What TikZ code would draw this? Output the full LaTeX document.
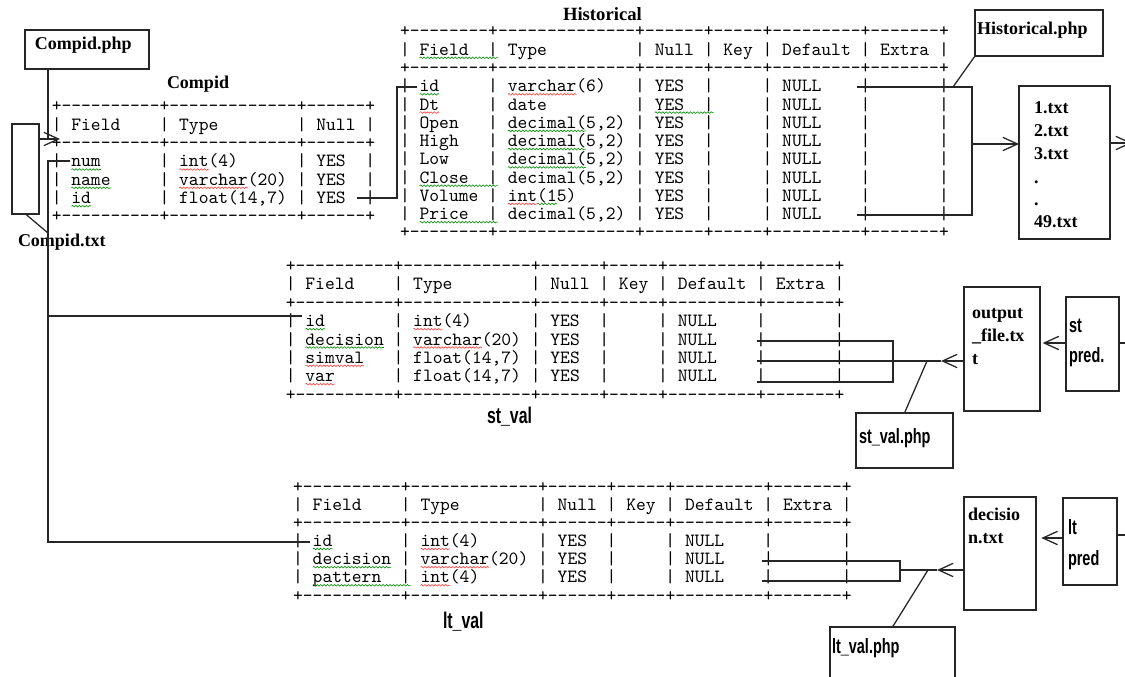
\documentclass[tikz,border=0pt]{standalone}
\usepackage{fontspec}
\setmainfont{Liberation Serif}
\newfontfamily\monof{lmmono10-regular}[Extension=.otf, Ligatures=TeXOff]
\newfontfamily\condf{Liberation Sans}[FakeStretch=0.7]
\usetikzlibrary{arrows.meta,decorations.pathmorphing,fit}

% one fixed-width cell of a MySQL-style text table, followed by its bar
\newcommand\tcell[2]{\makebox[#1\fontcharwd\font`0][l]{~#2}|}
% border line: +----+------+ with the given column widths
\newcommand\bdr[1]{+\foreach\n in {#1}{\foreach\k in {1,...,\n}{-}+}}
\newcommand\rowC[3]{|\tcell{10}{#1}\tcell{13}{#2}\tcell{6}{#3}}
\newcommand\rowH[6]{|\tcell{8}{#1}\tcell{14}{#2}\tcell{6}{#3}\tcell{5}{#4}\tcell{9}{#5}\tcell{7}{#6}}
\newcommand\rowV[6]{|\tcell{10}{#1}\tcell{13}{#2}\tcell{6}{#3}\tcell{5}{#4}\tcell{9}{#5}\tcell{7}{#6}}
\newcommand\trow[4]{\node[trow] (#1) at (#2,#3) {#4};}
% wavy underline from column #4 to column #5 of a table starting at x=#2
\newcommand\squig[5]{\draw[#1] ({#2+9.8*#4},#3) -- ({#2+9.8*#5},#3);}
% plain rectangle spanning two corners
\newcommand\pbox[5]{\coordinate (#1-a) at (#2,#3); \coordinate (#1-b) at (#4,#5); \node[pbx, fit=(#1-a)(#1-b)] (#1) {};}

\tikzset{
  ln/.style={draw=black!85, line width=0.95pt},
  pbx/.style={draw=black!85, line width=0.95pt, inner sep=0pt, outer sep=0pt},
  arr/.style={ln, -{Straight Barb[length=11pt,width=10pt]}},
  trow/.style={anchor=base west, inner sep=0pt, outer sep=0pt, font=\monof\fontsize{14}{16}\selectfont},
  lbl/.style={anchor=base west, inner sep=0pt, outer sep=0pt, font=\bfseries\fontsize{13.5}{16}\selectfont},
  cnd/.style={anchor=base west, inner sep=0pt, outer sep=0pt, font=\condf\bfseries\fontsize{15.5}{18}\selectfont},
  wv/.style={line width=0.45pt, decorate, decoration={snake, amplitude=0.6pt, segment length=2.6pt}},
  wr/.style={wv, draw=red!75},
  wg/.style={wv, draw=green!55!black},
}

\begin{document}
\begin{tikzpicture}[x=0.75pt,y=-0.75pt]
\fill[white] (0,0) rectangle (1125,677);
\useasboundingbox (0,0) rectangle (1125,677);

% ---------- Compid table ----------
\node[lbl] (clab) at (167,88.3) {Compid};
\trow{c0}{51.8}{112}{\bdr{10,13,6}}
\trow{c1}{51.8}{130.3}{\rowC{Field}{Type}{Null}}
\trow{c2}{51.8}{148.7}{\bdr{10,13,6}}
\trow{c3}{51.8}{167}{\rowC{num}{int(4)}{YES}}
\trow{c4}{51.8}{185.3}{\rowC{name}{varchar(20)}{YES}}
\trow{c5}{51.8}{203.7}{\rowC{id}{float(14,7)}{YES}}
\trow{c6}{51.8}{222}{\bdr{10,13,6}}
\squig{wg}{51.8}{169.5}{2}{5}
\squig{wr}{51.8}{169.5}{13}{16}
\squig{wg}{51.8}{187.8}{2}{6}
\squig{wr}{51.8}{187.8}{13}{20}
\squig{wg}{51.8}{206.2}{2}{4}

% ---------- Historical table ----------
\node[lbl, font=\bfseries\fontsize{14}{16}\selectfont] (hlab) at (563,20.5) {Historical};
\trow{h0}{400}{37}{\bdr{8,14,6,5,9,7}}
\trow{h1}{400}{55.3}{\rowH{Field}{Type}{Null}{Key}{Default}{Extra}}
\trow{h2}{400}{73.5}{\bdr{8,14,6,5,9,7}}
\trow{h3}{400}{91.8}{\rowH{id}{varchar(6)}{YES}{}{NULL}{}}
\trow{h4}{400}{110.1}{\rowH{Dt}{date}{YES}{}{NULL}{}}
\trow{h5}{400}{128.4}{\rowH{Open}{decimal(5,2)}{YES}{}{NULL}{}}
\trow{h6}{400}{146.6}{\rowH{High}{decimal(5,2)}{YES}{}{NULL}{}}
\trow{h7}{400}{164.9}{\rowH{Low}{decimal(5,2)}{YES}{}{NULL}{}}
\trow{h8}{400}{183.2}{\rowH{Close}{decimal(5,2)}{YES}{}{NULL}{}}
\trow{h9}{400}{201.4}{\rowH{Volume}{int(15)}{YES}{}{NULL}{}}
\trow{h10}{400}{219.7}{\rowH{Price}{decimal(5,2)}{YES}{}{NULL}{}}
\trow{h11}{400}{238}{\bdr{8,14,6,5,9,7}}
\squig{wg}{400}{57.8}{2}{10}
\squig{wg}{400}{94.3}{2}{4}
\squig{wr}{400}{94.3}{11}{18}
\squig{wr}{400}{112.6}{2}{4}
\squig{wg}{400}{112.6}{26}{32}
\squig{wg}{400}{130.9}{11}{19}
\squig{wg}{400}{149.1}{11}{19}
\squig{wg}{400}{167.4}{11}{19}
\squig{wg}{400}{185.7}{2}{10}
\squig{wr}{400}{203.9}{11}{14}
\squig{wg}{400}{203.9}{14}{16}
\squig{wg}{400}{222.2}{2}{10}

% ---------- st_val table ----------
\trow{s0}{285.8}{271.7}{\bdr{10,13,6,5,9,7}}
\trow{s1}{285.8}{290}{\rowV{Field}{Type}{Null}{Key}{Default}{Extra}}
\trow{s2}{285.8}{308.3}{\bdr{10,13,6,5,9,7}}
\trow{s3}{285.8}{326.7}{\rowV{id}{int(4)}{YES}{}{NULL}{}}
\trow{s4}{285.8}{345}{\rowV{decision}{varchar(20)}{YES}{}{NULL}{}}
\trow{s5}{285.8}{363.3}{\rowV{simval}{float(14,7)}{YES}{}{NULL}{}}
\trow{s6}{285.8}{381.7}{\rowV{var}{float(14,7)}{YES}{}{NULL}{}}
\trow{s7}{285.8}{400}{\bdr{10,13,6,5,9,7}}
\node[cnd, font=\condf\bfseries\fontsize{17}{18}\selectfont] (slab) at (487,423) {st\_val};
\squig{wg}{285.8}{329.2}{2}{4}
\squig{wr}{285.8}{329.2}{13}{16}
\squig{wg}{285.8}{347.5}{2}{10}
\squig{wr}{285.8}{347.5}{13}{20}
\squig{wr}{285.8}{365.8}{2}{8}
\squig{wr}{285.8}{384.2}{2}{5}

% ---------- lt_val table ----------
\trow{l0}{293.1}{492}{\bdr{10,13,6,5,9,7}}
\trow{l1}{293.1}{510.2}{\rowV{Field}{Type}{Null}{Key}{Default}{Extra}}
\trow{l2}{293.1}{528.3}{\bdr{10,13,6,5,9,7}}
\trow{l3}{293.1}{546.5}{\rowV{id}{int(4)}{YES}{}{NULL}{}}
\trow{l4}{293.1}{564.7}{\rowV{decision}{varchar(20)}{YES}{}{NULL}{}}
\trow{l5}{293.1}{582.8}{\rowV{pattern}{int(4)}{YES}{}{NULL}{}}
\trow{l6}{293.1}{601}{\bdr{10,13,6,5,9,7}}
\node[cnd, font=\condf\bfseries\fontsize{17}{18}\selectfont] (llab) at (443,628) {lt\_val};
\squig{wg}{293.1}{549}{2}{4}
\squig{wr}{293.1}{549}{13}{16}
\squig{wg}{293.1}{567.2}{2}{10}
\squig{wr}{293.1}{567.2}{13}{20}
\squig{wg}{293.1}{585.3}{2}{12}
\squig{wr}{293.1}{585.3}{13}{16}

% ---------- boxes ----------
\pbox{cphp}{25}{30}{149}{69}
\node[lbl] (cphp-t) at (35,50) {Compid.php};
\pbox{ctxt}{12}{124}{39}{214}
\node[lbl] (ctxt-t) at (18,247) {Compid.txt};
\pbox{hphp}{975}{10}{1103}{56}
\node[lbl] (hphp-t) at (977,35) {Historical.php};
\pbox{files}{1019}{86}{1110}{239}
\foreach \t/\yb [count=\i] in {1.txt/114, 2.txt/137, 3.txt/160, ./184, ./206, 49.txt/228}
  \node[lbl] (files-\i) at (1034,\yb) {\t};
\pbox{outf}{964}{287}{1040}{411}
\node[lbl] (outf-1) at (972,319) {output};
\node[lbl] (outf-2) at (972,342) {\_file.tx};
\node[lbl] (outf-3) at (972,365) {t};
\pbox{spred}{1066}{297}{1119}{391}
\node[cnd] (spred-1) at (1069,333) {st};
\node[cnd] (spred-2) at (1069,363) {pred.};
\pbox{svphp}{856}{413}{953}{468}
\node[cnd] (svphp-t) at (859,443) {st\_val.php};
\pbox{dect}{964}{497}{1036}{610}
\node[lbl] (dect-1) at (968,520) {decisio};
\node[lbl] (dect-2) at (968,543) {n.txt};
\pbox{lpred}{1063}{498}{1117}{585}
\node[cnd] (lpred-1) at (1068,534) {lt};
\node[cnd] (lpred-2) at (1068,565) {pred};
\pbox{lvphp}{830}{627}{955}{690}
\node[cnd] (lvphp-t) at (832,653) {lt\_val.php};

% ---------- connectors ----------
% Compid.php and Compid.txt feed the Compid table
\coordinate (jA) at (48,139);
\coordinate (tipA) at (60,139);
\draw[ln] (cphp.south -| jA) -- (jA);
\draw[arr] (ctxt.east |- jA) -- (tipA);
\coordinate (busA) at (48,233);
\draw[ln] (ctxt.south) -- (busA);

% id bus from Compid.num to st_val.id and lt_val.id
\coordinate (cnum) at (70,161);
\coordinate (busT) at (48,161);
\coordinate (busS) at (48,316);
\coordinate (busB) at (48,542);
\coordinate (sid) at (302,316);
\coordinate (lid) at (310,542);
\draw[ln] (cnum) -- (busT) -- (busB) -- (lid);
\draw[ln] (busS) -- (sid);

% Compid.id to Historical.id
\coordinate (cid) at (357,198);
\coordinate (hjoin) at (397,87);
\coordinate (hid) at (417,87);
\draw[ln] (cid) -| (hjoin) -- (hid);

% Historical rows to the text files
\coordinate (hb1) at (857,87);
\coordinate (hb2) at (972,87);
\coordinate (hb3) at (972,215);
\coordinate (hb4) at (857,215);
\coordinate (hmid) at (972,144);
\coordinate (hpt) at (953,87);
\draw[ln] (hb1) -- (hb2) -- (hb3) -- (hb4);
\draw[arr] (hmid) -- (files.west |- hmid);
\draw[ln] (hphp.south west) -- (hpt);
\coordinate (fout) at (1132,143);
\draw[arr] (files.east |- fout) -- (fout);

% output_file.txt into st_val
\coordinate (sb1) at (757,341);
\coordinate (sb2) at (893,341);
\coordinate (sb3) at (893,382);
\coordinate (sb4) at (757,382);
\coordinate (smid) at (757,361);
\coordinate (stip) at (941,361);
\coordinate (spt) at (927,361);
\draw[ln] (sb1) -- (sb2) -- (sb3) -- (sb4);
\draw[arr] (outf.west |- smid) -- (stip);
\draw[ln] (stip) -- (smid);
\draw[ln] (svphp.north) -- (spt);

% decision.txt into lt_val
\coordinate (lb1) at (762,561);
\coordinate (lb2) at (900,561);
\coordinate (lb3) at (900,581);
\coordinate (lb4) at (762,581);
\coordinate (lmid) at (900,570);
\coordinate (ltip) at (937,570);
\coordinate (lpt) at (928,570);
\draw[ln] (lb1) -- (lb2) -- (lb3) -- (lb4);
\draw[arr] (dect.west |- lmid) -- (ltip);
\draw[ln] (ltip) -- (lmid);
\draw[ln] (lvphp.north) -- (lpt);

% predictors into their output files
\coordinate (sy) at (1050,343);
\draw[arr, shorten >=2pt] (spred.west |- sy) -- (outf.east |- sy);
\coordinate (sexit) at (1126,343);
\draw[ln] (spred.east |- sexit) -- (sexit);
\coordinate (ly) at (1050,538);
\draw[arr, shorten >=4pt] (lpred.west |- ly) -- (dect.east |- ly);
\coordinate (lexit) at (1126,535);
\draw[ln] (lpred.east |- lexit) -- (lexit);
\end{tikzpicture}
\end{document}
